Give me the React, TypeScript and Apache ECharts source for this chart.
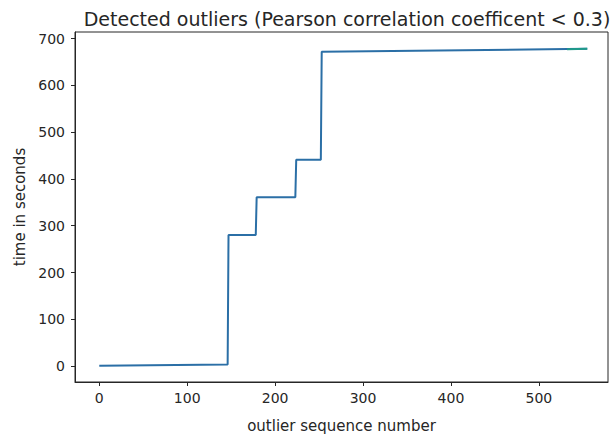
import { useEffect, useRef } from "react";
import * as echarts from "echarts";

const seqNumbers = [0, 146, 147, 178, 179, 223, 224, 252, 253, 555];
const timeSeconds = [0.5, 3.5, 280, 280, 361, 361, 441, 441, 672, 678];
const tailSeq = [532, 555];
const tailTime = [677.2, 678];
const xTicks = [0, 100, 200, 300, 400, 500];
const yTicks = [0, 100, 200, 300, 400, 500, 600, 700];

const titleText = "Detected outliers (Pearson correlation coefficent < 0.3)";
const xName = "outlier sequence number";
const yName = "time in seconds";

export default function App() {
  const ref = useRef<HTMLDivElement>(null);
  useEffect(() => {
    if (!ref.current) return;
    const chart = echarts.init(ref.current, undefined, { renderer: "svg" });
    const font = "DejaVu Sans";
    const ink = "#262626";
    chart.setOption({
      animation: false,
      backgroundColor: "#fff",
      textStyle: { fontFamily: font },
      title: {
        text: titleText,
        left: 342,
        top: 4,
        textAlign: "center",
        textStyle: { fontFamily: font, fontSize: 19, fontWeight: "normal", color: ink },
      },
      grid: {
        left: 75,
        top: 32,
        width: 533,
        height: 350,
        show: true,
        borderColor: ink,
        borderWidth: 1,
        containLabel: false,
      },
      xAxis: {
        type: "value",
        min: -27.6,
        max: 578.6,
        name: xName,
        nameLocation: "middle",
        nameGap: 36,
        nameTextStyle: { fontFamily: font, fontSize: 15, color: ink },
        axisLine: { show: true, onZero: false, lineStyle: { color: ink, width: 1 } },
        axisTick: { show: true, length: 4, customValues: xTicks, lineStyle: { color: ink } },
        axisLabel: { customValues: xTicks, fontFamily: font, fontSize: 14, color: ink, margin: 9 },
        splitLine: { show: false },
      },
      yAxis: {
        type: "value",
        min: -34,
        max: 714,
        name: yName,
        nameLocation: "middle",
        nameGap: 44,
        nameTextStyle: { fontFamily: font, fontSize: 15, color: ink },
        axisLine: { show: true, onZero: false, lineStyle: { color: ink, width: 1 } },
        axisTick: { show: true, length: 4, customValues: yTicks, lineStyle: { color: ink } },
        axisLabel: { customValues: yTicks, fontFamily: font, fontSize: 14, color: ink, margin: 10 },
        splitLine: { show: false },
      },
      series: [
        {
          type: "line",
          data: seqNumbers.map((x, i) => [x, timeSeconds[i]]),
          showSymbol: false,
          lineStyle: { color: "#2b6fa6", width: 2 },
        },
        {
          type: "line",
          data: tailSeq.map((x, i) => [x, tailTime[i]]),
          showSymbol: false,
          lineStyle: { color: "#1f9a8a", width: 2 },
        },
      ],
    });
    return () => chart.dispose();
  }, []);
  return (
    <div
      ref={ref}
      style={{ position: "fixed", left: 0, top: 0, width: 612, height: 439 }}
    />
  );
}
